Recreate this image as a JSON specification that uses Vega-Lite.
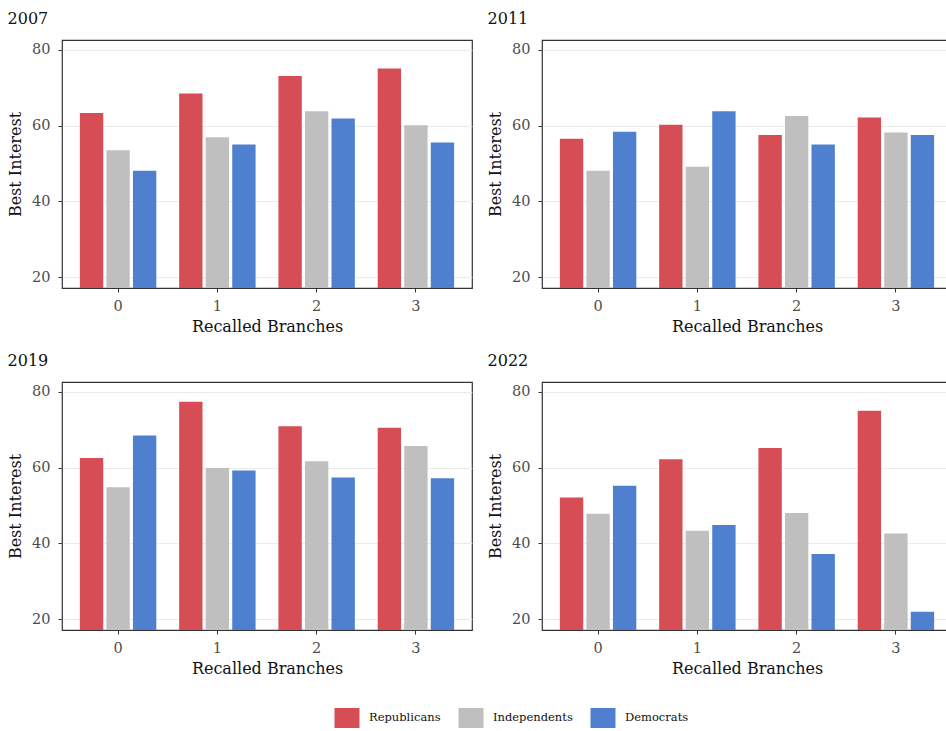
{
  "$schema": "https://vega.github.io/schema/vega-lite/v6.json",
  "padding": {"left": 6, "top": 10, "right": 0, "bottom": 0},
  "background": "white",
  "data": {"values": [
    {"year": "2007", "branches": "0", "party": "Republicans", "value": 63.3},
    {"year": "2007", "branches": "0", "party": "Independents", "value": 53.5},
    {"year": "2007", "branches": "0", "party": "Democrats", "value": 48.1},
    {"year": "2007", "branches": "1", "party": "Republicans", "value": 68.5},
    {"year": "2007", "branches": "1", "party": "Independents", "value": 56.9},
    {"year": "2007", "branches": "1", "party": "Democrats", "value": 55.0},
    {"year": "2007", "branches": "2", "party": "Republicans", "value": 73.1},
    {"year": "2007", "branches": "2", "party": "Independents", "value": 63.8},
    {"year": "2007", "branches": "2", "party": "Democrats", "value": 61.9},
    {"year": "2007", "branches": "3", "party": "Republicans", "value": 75.1},
    {"year": "2007", "branches": "3", "party": "Independents", "value": 60.1},
    {"year": "2007", "branches": "3", "party": "Democrats", "value": 55.5},
    {"year": "2011", "branches": "0", "party": "Republicans", "value": 56.5},
    {"year": "2011", "branches": "0", "party": "Independents", "value": 48.1},
    {"year": "2011", "branches": "0", "party": "Democrats", "value": 58.4},
    {"year": "2011", "branches": "1", "party": "Republicans", "value": 60.2},
    {"year": "2011", "branches": "1", "party": "Independents", "value": 49.1},
    {"year": "2011", "branches": "1", "party": "Democrats", "value": 63.8},
    {"year": "2011", "branches": "2", "party": "Republicans", "value": 57.5},
    {"year": "2011", "branches": "2", "party": "Independents", "value": 62.5},
    {"year": "2011", "branches": "2", "party": "Democrats", "value": 55.0},
    {"year": "2011", "branches": "3", "party": "Republicans", "value": 62.1},
    {"year": "2011", "branches": "3", "party": "Independents", "value": 58.2},
    {"year": "2011", "branches": "3", "party": "Democrats", "value": 57.5},
    {"year": "2019", "branches": "0", "party": "Republicans", "value": 62.5},
    {"year": "2019", "branches": "0", "party": "Independents", "value": 54.8},
    {"year": "2019", "branches": "0", "party": "Democrats", "value": 68.5},
    {"year": "2019", "branches": "1", "party": "Republicans", "value": 77.4},
    {"year": "2019", "branches": "1", "party": "Independents", "value": 59.9},
    {"year": "2019", "branches": "1", "party": "Democrats", "value": 59.2},
    {"year": "2019", "branches": "2", "party": "Republicans", "value": 70.9},
    {"year": "2019", "branches": "2", "party": "Independents", "value": 61.7},
    {"year": "2019", "branches": "2", "party": "Democrats", "value": 57.4},
    {"year": "2019", "branches": "3", "party": "Republicans", "value": 70.5},
    {"year": "2019", "branches": "3", "party": "Independents", "value": 65.7},
    {"year": "2019", "branches": "3", "party": "Democrats", "value": 57.2},
    {"year": "2022", "branches": "0", "party": "Republicans", "value": 52.1},
    {"year": "2022", "branches": "0", "party": "Independents", "value": 47.8},
    {"year": "2022", "branches": "0", "party": "Democrats", "value": 55.2},
    {"year": "2022", "branches": "1", "party": "Republicans", "value": 62.2},
    {"year": "2022", "branches": "1", "party": "Independents", "value": 43.3},
    {"year": "2022", "branches": "1", "party": "Democrats", "value": 44.8},
    {"year": "2022", "branches": "2", "party": "Republicans", "value": 65.2},
    {"year": "2022", "branches": "2", "party": "Independents", "value": 48.0},
    {"year": "2022", "branches": "2", "party": "Democrats", "value": 37.2},
    {"year": "2022", "branches": "3", "party": "Republicans", "value": 75.0},
    {"year": "2022", "branches": "3", "party": "Independents", "value": 42.6},
    {"year": "2022", "branches": "3", "party": "Democrats", "value": 21.9}
  ]},
  "spacing": 16,
  "vconcat": [
    {
      "spacing": 13,
      "hconcat": [
        {
          "title": "2007",
          "transform": [{"filter": "datum.year === '2007'"}],
          "width": 410, "height": 248,
          "mark": {"type": "bar", "clip": true},
          "encoding": {
            "x": {"field": "branches", "type": "ordinal", "scale": {"paddingInner": 0.23, "paddingOuter": 0.18}, "axis": {"title": "Recalled Branches", "labelAngle": 0}},
            "xOffset": {"field": "party", "sort": ["Republicans", "Independents", "Democrats"], "scale": {"paddingInner": 0.12}},
            "y": {"field": "value", "type": "quantitative", "scale": {"domain": [17.1, 82.6], "nice": false, "zero": false}, "axis": {"title": "Best Interest", "values": [20, 40, 60, 80]}},
            "color": {"field": "party", "type": "nominal", "scale": {"domain": ["Republicans", "Independents", "Democrats"], "range": ["#D64D55", "#BFBFBF", "#4F80D0"]}, "legend": {"title": null, "orient": "none", "direction": "horizontal", "legendX": 275, "legendY": 668}}
          }
        },
        {
          "title": "2011",
          "transform": [{"filter": "datum.year === '2011'"}],
          "width": 410, "height": 248,
          "mark": {"type": "bar", "clip": true},
          "encoding": {
            "x": {"field": "branches", "type": "ordinal", "scale": {"paddingInner": 0.23, "paddingOuter": 0.18}, "axis": {"title": "Recalled Branches", "labelAngle": 0}},
            "xOffset": {"field": "party", "sort": ["Republicans", "Independents", "Democrats"], "scale": {"paddingInner": 0.12}},
            "y": {"field": "value", "type": "quantitative", "scale": {"domain": [17.1, 82.6], "nice": false, "zero": false}, "axis": {"title": "Best Interest", "values": [20, 40, 60, 80]}},
            "color": {"field": "party", "type": "nominal", "scale": {"domain": ["Republicans", "Independents", "Democrats"], "range": ["#D64D55", "#BFBFBF", "#4F80D0"]}, "legend": {"title": null, "orient": "none", "direction": "horizontal", "legendX": 275, "legendY": 668}}
          }
        }
      ]
    },
    {
      "spacing": 13,
      "hconcat": [
        {
          "title": "2019",
          "transform": [{"filter": "datum.year === '2019'"}],
          "width": 410, "height": 248,
          "mark": {"type": "bar", "clip": true},
          "encoding": {
            "x": {"field": "branches", "type": "ordinal", "scale": {"paddingInner": 0.23, "paddingOuter": 0.18}, "axis": {"title": "Recalled Branches", "labelAngle": 0}},
            "xOffset": {"field": "party", "sort": ["Republicans", "Independents", "Democrats"], "scale": {"paddingInner": 0.12}},
            "y": {"field": "value", "type": "quantitative", "scale": {"domain": [17.1, 82.6], "nice": false, "zero": false}, "axis": {"title": "Best Interest", "values": [20, 40, 60, 80]}},
            "color": {"field": "party", "type": "nominal", "scale": {"domain": ["Republicans", "Independents", "Democrats"], "range": ["#D64D55", "#BFBFBF", "#4F80D0"]}, "legend": {"title": null, "orient": "none", "direction": "horizontal", "legendX": 275, "legendY": 668}}
          }
        },
        {
          "title": "2022",
          "transform": [{"filter": "datum.year === '2022'"}],
          "width": 410, "height": 248,
          "mark": {"type": "bar", "clip": true},
          "encoding": {
            "x": {"field": "branches", "type": "ordinal", "scale": {"paddingInner": 0.23, "paddingOuter": 0.18}, "axis": {"title": "Recalled Branches", "labelAngle": 0}},
            "xOffset": {"field": "party", "sort": ["Republicans", "Independents", "Democrats"], "scale": {"paddingInner": 0.12}},
            "y": {"field": "value", "type": "quantitative", "scale": {"domain": [17.1, 82.6], "nice": false, "zero": false}, "axis": {"title": "Best Interest", "values": [20, 40, 60, 80]}},
            "color": {"field": "party", "type": "nominal", "scale": {"domain": ["Republicans", "Independents", "Democrats"], "range": ["#D64D55", "#BFBFBF", "#4F80D0"]}, "legend": {"title": null, "orient": "none", "direction": "horizontal", "legendX": 275, "legendY": 668}}
          }
        }
      ]
    }
  ],
  "resolve": {"scale": {"color": "shared"}},
  "config": {
    "font": "DejaVu Serif",
    "view": {"stroke": "#333333", "strokeWidth": 1.2},
    "title": {"anchor": "start", "frame": "bounds", "fontSize": 16, "fontWeight": "normal", "color": "#111111", "offset": 13},
    "axis": {
      "labelFont": "DejaVu Serif", "labelFontSize": 14.5, "labelColor": "#4D4D4D",
      "titleFont": "DejaVu Serif", "titleFontSize": 16, "titleFontWeight": "normal", "titleColor": "#111111",
      "domain": false, "tickColor": "#333333", "tickSize": 4,
      "gridColor": "#EBEBEB", "gridWidth": 1
    },
    "axisX": {"titlePadding": 6, "labelPadding": 7},
    "axisY": {"titlePadding": 8, "labelPadding": 8},
    "legend": {
      "labelFont": "DejaVu Serif", "labelFontSize": 11.5, "labelColor": "#111111",
      "symbolType": "M-1.25,-1L1.25,-1L1.25,1L-1.25,1Z", "symbolSize": 400, "symbolStrokeWidth": 0, "symbolOpacity": 1,
      "columnPadding": 17, "labelOffset": 12, "padding": 0
    }
  }
}
